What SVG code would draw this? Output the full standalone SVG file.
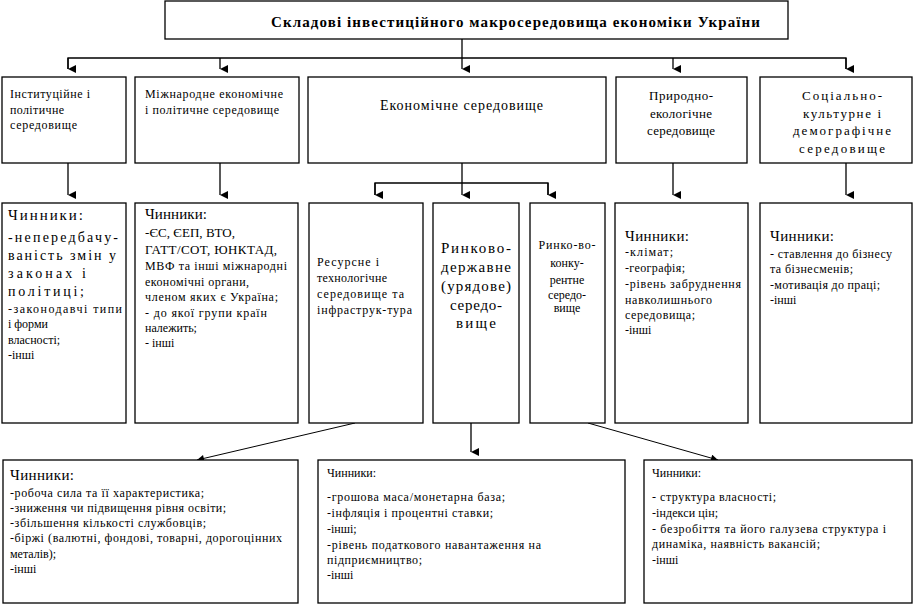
<svg xmlns="http://www.w3.org/2000/svg" width="914" height="605" viewBox="0 0 914 605">
<defs>
<marker id="ah" viewBox="0 0 8 8" refX="4" refY="8" markerWidth="8" markerHeight="8" markerUnits="userSpaceOnUse" orient="auto-start-reverse">
<path d="M0,0 L8,0 L4,8 Z" fill="#000"/>
</marker>
<marker id="ad" viewBox="0 0 8 8" refX="8" refY="4" markerWidth="8" markerHeight="7" markerUnits="userSpaceOnUse" orient="auto">
<path d="M0,0 L8,4 L0,8 Z" fill="#000"/>
</marker>
<style>
rect{fill:#fff;stroke:#000;stroke-width:1.3}
.ln{stroke:#000;stroke-width:1.3;fill:none}
</style>
</defs>
<rect x="0" y="0" width="914" height="605" style="fill:#fff;stroke:none"/>

<g id="title">
<rect x="165" y="1" width="623" height="38"/>
<text x="271" y="27" font-family="'Liberation Serif', serif" font-size="15" font-weight="bold" textLength="489" lengthAdjust="spacing">Складові інвестиційного макросередовища економіки України</text>
</g>

<g id="connectors">
<path class="ln" d="M462,39 V58"/>
<path class="ln" d="M68,69 V58 H846 V69"/>
<path class="ln" d="M68,58 V69" marker-end="url(#ah)"/>
<path class="ln" d="M220,58 V69" marker-end="url(#ah)"/>
<path class="ln" d="M462,58 V69" marker-end="url(#ah)"/>
<path class="ln" d="M673,58 V69" marker-end="url(#ah)"/>
<path class="ln" d="M846,58 V69" marker-end="url(#ah)"/>
<path class="ln" d="M68,163 V195" marker-end="url(#ah)"/>
<path class="ln" d="M220,163 V195" marker-end="url(#ah)"/>
<path class="ln" d="M673,163 V195" marker-end="url(#ah)"/>
<path class="ln" d="M846,163 V195" marker-end="url(#ah)"/>
<path class="ln" d="M462,163 V195" marker-end="url(#ah)"/>
<path class="ln" d="M375,195 V183 H548 V195"/>
<path class="ln" d="M375,183 V195" marker-end="url(#ah)"/>
<path class="ln" d="M548,183 V195" marker-end="url(#ah)"/>
<path class="ln" d="M471,423 V452" marker-end="url(#ah)"/>
<path class="ln" d="M355,423 L197,460" marker-end="url(#ad)" style="stroke-width:1"/>
<path class="ln" d="M588,423 L718,460" marker-end="url(#ad)" style="stroke-width:1"/>
</g>

<g id="n-inst">
<rect x="2" y="77" width="124" height="86"/>
<text font-family="'Liberation Serif', serif" font-size="12" x="10" y="98" textLength="80" lengthAdjust="spacing">Інституційне і</text>
<text font-family="'Liberation Serif', serif" font-size="12" x="10" y="114" textLength="54" lengthAdjust="spacing">політичне</text>
<text font-family="'Liberation Serif', serif" font-size="12" x="10" y="129" textLength="67" lengthAdjust="spacing">середовище</text>
</g>

<g id="n-mizh">
<rect x="135" y="77" width="164" height="86"/>
<text font-family="'Liberation Serif', serif" font-size="12" x="145" y="98" textLength="138" lengthAdjust="spacing">Міжнародне економічне</text>
<text font-family="'Liberation Serif', serif" font-size="12" x="145" y="114" textLength="134" lengthAdjust="spacing">і політичне середовище</text>
</g>

<g id="n-econ">
<rect x="308" y="77" width="298" height="86"/>
<text font-family="'Liberation Serif', serif" font-size="14" x="380" y="110" textLength="163" lengthAdjust="spacing">Економічне середовище</text>
</g>

<g id="n-pryr">
<rect x="616" y="77" width="131" height="86"/>
<text font-family="'Liberation Serif', serif" font-size="13" text-anchor="middle" x="681" y="100" textLength="64" lengthAdjust="spacing">Природно-</text>
<text font-family="'Liberation Serif', serif" font-size="13" text-anchor="middle" x="681" y="118" textLength="62" lengthAdjust="spacing">екологічне</text>
<text font-family="'Liberation Serif', serif" font-size="13" text-anchor="middle" x="681" y="135" textLength="68" lengthAdjust="spacing">середовище</text>
</g>

<g id="n-soc">
<rect x="760" y="77" width="152" height="86"/>
<text font-family="'Liberation Serif', serif" font-size="13" text-anchor="middle" x="842" y="100" textLength="80" lengthAdjust="spacing">Соціально-</text>
<text font-family="'Liberation Serif', serif" font-size="13" text-anchor="middle" x="842" y="118" textLength="78" lengthAdjust="spacing">культурне і</text>
<text font-family="'Liberation Serif', serif" font-size="13" text-anchor="middle" x="842" y="135" textLength="98" lengthAdjust="spacing">демографічне</text>
<text font-family="'Liberation Serif', serif" font-size="13" text-anchor="middle" x="842" y="153" textLength="86" lengthAdjust="spacing">середовище</text>
</g>

<g id="f-inst">
<rect x="2" y="203" width="124" height="220"/>
<text font-family="'Liberation Serif', serif" font-size="15" x="8" y="220" textLength="75" lengthAdjust="spacing">Чинники:</text>
<text font-family="'Liberation Serif', serif" font-size="14" x="8" y="242" textLength="110" lengthAdjust="spacing">-непередбачу-</text>
<text font-family="'Liberation Serif', serif" font-size="14" x="8" y="260" textLength="108" lengthAdjust="spacing">ваність змін у</text>
<text font-family="'Liberation Serif', serif" font-size="14" x="8" y="278" textLength="78" lengthAdjust="spacing">законах і</text>
<text font-family="'Liberation Serif', serif" font-size="14" x="8" y="296" textLength="76" lengthAdjust="spacing">політиці;</text>
<text font-family="'Liberation Serif', serif" font-size="12" x="8" y="313" textLength="114" lengthAdjust="spacing">-законодавчі типи</text>
<text font-family="'Liberation Serif', serif" font-size="12" x="8" y="328">і форми</text>
<text font-family="'Liberation Serif', serif" font-size="12" x="8" y="344">власності;</text>
<text font-family="'Liberation Serif', serif" font-size="12" x="8" y="359">-інші</text>
</g>

<g id="f-mizh">
<rect x="135" y="203" width="163" height="220"/>
<text font-family="'Liberation Serif', serif" font-size="15" x="145" y="219" textLength="62" lengthAdjust="spacing">Чинники:</text>
<text font-family="'Liberation Serif', serif" font-size="13" x="145" y="237" textLength="90" lengthAdjust="spacing">-ЄС, ЄЕП, ВТО,</text>
<text font-family="'Liberation Serif', serif" font-size="13" x="145" y="254" textLength="132" lengthAdjust="spacing">ГАТТ/СОТ, ЮНКТАД,</text>
<text font-family="'Liberation Serif', serif" font-size="12" x="145" y="270" textLength="142" lengthAdjust="spacing">МВФ та інші міжнародні</text>
<text font-family="'Liberation Serif', serif" font-size="12" x="145" y="286" textLength="104" lengthAdjust="spacing">економічні органи,</text>
<text font-family="'Liberation Serif', serif" font-size="12" x="145" y="301" textLength="133" lengthAdjust="spacing">членом яких є Україна;</text>
<text font-family="'Liberation Serif', serif" font-size="12" x="145" y="317" textLength="122" lengthAdjust="spacing">- до якої групи країн</text>
<text font-family="'Liberation Serif', serif" font-size="12" x="145" y="332">належить;</text>
<text font-family="'Liberation Serif', serif" font-size="12" x="145" y="347">- інші</text>
</g>

<g id="n-res">
<rect x="309" y="203" width="114" height="220"/>
<text font-family="'Liberation Serif', serif" font-size="12" x="317" y="266" textLength="62" lengthAdjust="spacing">Ресурсне і</text>
<text font-family="'Liberation Serif', serif" font-size="12" x="317" y="282" textLength="70" lengthAdjust="spacing">технологічне</text>
<text font-family="'Liberation Serif', serif" font-size="12" x="317" y="298" textLength="87" lengthAdjust="spacing">середовище та</text>
<text font-family="'Liberation Serif', serif" font-size="12" x="317" y="314" textLength="95" lengthAdjust="spacing">інфраструк-тура</text>
</g>

<g id="n-rd">
<rect x="433" y="203" width="86" height="220"/>
<text font-family="'Liberation Serif', serif" font-size="15" text-anchor="middle" x="476" y="253" textLength="70" lengthAdjust="spacing">Ринково-</text>
<text font-family="'Liberation Serif', serif" font-size="15" text-anchor="middle" x="476" y="272" textLength="70" lengthAdjust="spacing">державне</text>
<text font-family="'Liberation Serif', serif" font-size="15" text-anchor="middle" x="476" y="291" textLength="70" lengthAdjust="spacing">(урядове)</text>
<text font-family="'Liberation Serif', serif" font-size="15" text-anchor="middle" x="476" y="310" textLength="52" lengthAdjust="spacing">середо-</text>
<text font-family="'Liberation Serif', serif" font-size="15" text-anchor="middle" x="476" y="328" textLength="40" lengthAdjust="spacing">вище</text>
</g>

<g id="n-rk">
<rect x="530" y="203" width="75" height="220"/>
<text font-family="'Liberation Serif', serif" font-size="12" text-anchor="middle" x="567" y="249" textLength="57" lengthAdjust="spacing">Ринко-во-</text>
<text font-family="'Liberation Serif', serif" font-size="12" text-anchor="middle" x="567" y="267">конку-</text>
<text font-family="'Liberation Serif', serif" font-size="12" text-anchor="middle" x="567" y="284">рентне</text>
<text font-family="'Liberation Serif', serif" font-size="12" text-anchor="middle" x="567" y="299">середо-</text>
<text font-family="'Liberation Serif', serif" font-size="12" text-anchor="middle" x="567" y="312">вище</text>
</g>

<g id="f-pryr">
<rect x="615" y="203" width="133" height="220"/>
<text font-family="'Liberation Serif', serif" font-size="15" x="625" y="241" textLength="64" lengthAdjust="spacing">Чинники:</text>
<text font-family="'Liberation Serif', serif" font-size="12" x="625" y="256" textLength="48" lengthAdjust="spacing">-клімат;</text>
<text font-family="'Liberation Serif', serif" font-size="12" x="625" y="272" textLength="60" lengthAdjust="spacing">-географія;</text>
<text font-family="'Liberation Serif', serif" font-size="12" x="625" y="288" textLength="116" lengthAdjust="spacing">-рівень забруднення</text>
<text font-family="'Liberation Serif', serif" font-size="12" x="625" y="304" textLength="87" lengthAdjust="spacing">навколишнього</text>
<text font-family="'Liberation Serif', serif" font-size="12" x="625" y="319" textLength="70" lengthAdjust="spacing">середовища;</text>
<text font-family="'Liberation Serif', serif" font-size="12" x="625" y="334">-інші</text>
</g>

<g id="f-soc">
<rect x="760" y="203" width="152" height="220"/>
<text font-family="'Liberation Serif', serif" font-size="15" x="770" y="241" textLength="64" lengthAdjust="spacing">Чинники:</text>
<text font-family="'Liberation Serif', serif" font-size="12" x="770" y="258" textLength="122" lengthAdjust="spacing">- ставлення до бізнесу</text>
<text font-family="'Liberation Serif', serif" font-size="12" x="770" y="273" textLength="83" lengthAdjust="spacing">та бізнесменів;</text>
<text font-family="'Liberation Serif', serif" font-size="12" x="770" y="289" textLength="110" lengthAdjust="spacing">-мотивація до праці;</text>
<text font-family="'Liberation Serif', serif" font-size="12" x="770" y="304">-інші</text>
</g>

<g id="f-res">
<rect x="3" y="460" width="295" height="143"/>
<text font-family="'Liberation Serif', serif" font-size="15" x="10" y="480" textLength="64" lengthAdjust="spacing">Чинники:</text>
<text font-family="'Liberation Serif', serif" font-size="12" x="10" y="497" textLength="194" lengthAdjust="spacing">-робоча сила та її характеристика;</text>
<text font-family="'Liberation Serif', serif" font-size="12" x="10" y="512" textLength="216" lengthAdjust="spacing">-зниження чи підвищення рівня освіти;</text>
<text font-family="'Liberation Serif', serif" font-size="12" x="10" y="527" textLength="196" lengthAdjust="spacing">-збільшення кількості службовців;</text>
<text font-family="'Liberation Serif', serif" font-size="12" x="10" y="542" textLength="272" lengthAdjust="spacing">-біржі (валютні, фондові, товарні, дорогоцінних</text>
<text font-family="'Liberation Serif', serif" font-size="12" x="10" y="558">металів);</text>
<text font-family="'Liberation Serif', serif" font-size="12" x="10" y="573">-інші</text>
</g>

<g id="f-rd">
<rect x="318" y="460" width="307" height="143"/>
<text font-family="'Liberation Serif', serif" font-size="12" x="327" y="477">Чинники:</text>
<text font-family="'Liberation Serif', serif" font-size="12" x="327" y="501" textLength="178" lengthAdjust="spacing">-грошова маса/монетарна база;</text>
<text font-family="'Liberation Serif', serif" font-size="12" x="327" y="517" textLength="166" lengthAdjust="spacing">-інфляція і процентні ставки;</text>
<text font-family="'Liberation Serif', serif" font-size="12" x="327" y="533">-інші;</text>
<text font-family="'Liberation Serif', serif" font-size="12" x="327" y="549" textLength="214" lengthAdjust="spacing">-рівень податкового навантаження на</text>
<text font-family="'Liberation Serif', serif" font-size="12" x="327" y="564" textLength="95" lengthAdjust="spacing">підприємництво;</text>
<text font-family="'Liberation Serif', serif" font-size="12" x="327" y="579">-інші</text>
</g>

<g id="f-rk">
<rect x="644" y="460" width="268" height="143"/>
<text font-family="'Liberation Serif', serif" font-size="12" x="652" y="477">Чинники:</text>
<text font-family="'Liberation Serif', serif" font-size="12" x="652" y="501" textLength="124" lengthAdjust="spacing">- структура власності;</text>
<text font-family="'Liberation Serif', serif" font-size="12" x="652" y="517" textLength="66" lengthAdjust="spacing">-індекси цін;</text>
<text font-family="'Liberation Serif', serif" font-size="12" x="652" y="533" textLength="234" lengthAdjust="spacing">- безробіття та його галузева структура і</text>
<text font-family="'Liberation Serif', serif" font-size="12" x="652" y="548" textLength="168" lengthAdjust="spacing">динаміка, наявність вакансій;</text>
<text font-family="'Liberation Serif', serif" font-size="12" x="652" y="564">-інші</text>
</g>
</svg>
